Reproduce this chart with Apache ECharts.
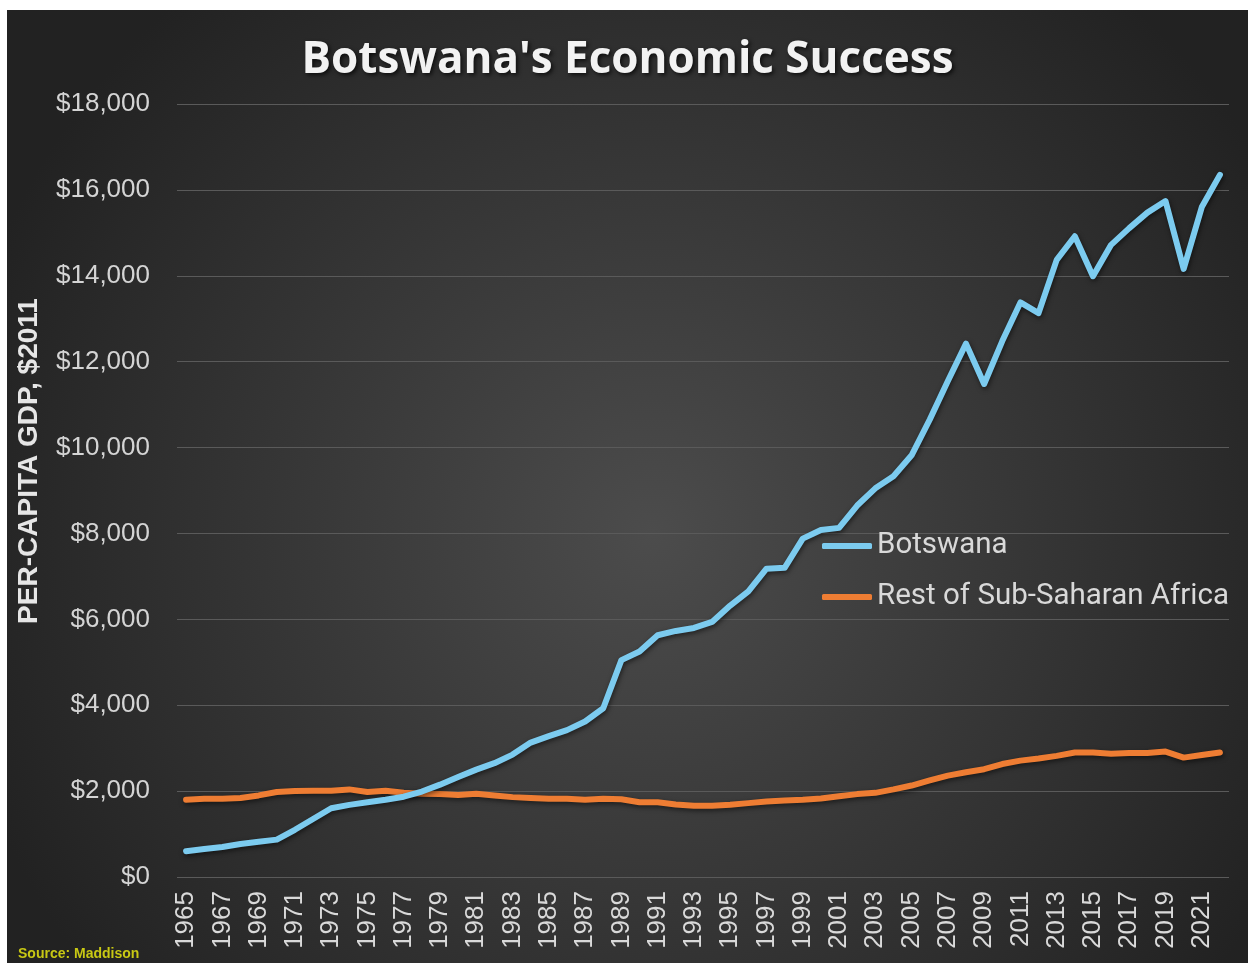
<!DOCTYPE html>
<html>
<head>
<meta charset="utf-8">
<title>Botswana's Economic Success</title>
<script src="https://cdn.jsdelivr.net/npm/echarts@6/dist/echarts.min.js"></script>
<style>
  html, body { margin: 0; padding: 0; background: #ffffff; }
  #chart { position: absolute; left: 7px; top: 10px; width: 1241px; height: 953px; }
</style>
</head>
<body>
<div id="chart"></div>
<script>
// Years shown on the category axis
const years = [
  '1965','1966','1967','1968','1969','1970','1971','1972','1973','1974',
  '1975','1976','1977','1978','1979','1980','1981','1982','1983','1984',
  '1985','1986','1987','1988','1989','1990','1991','1992','1993','1994',
  '1995','1996','1997','1998','1999','2000','2001','2002','2003','2004',
  '2005','2006','2007','2008','2009','2010','2011','2012','2013','2014',
  '2015','2016','2017','2018','2019','2020','2021','2022'
];

// Per-capita GDP, 2011 dollars (Maddison)
const botswana = [
  600, 650, 700, 770, 820, 870, 1100, 1350, 1600, 1680,
  1740, 1800, 1870, 1990, 2150, 2330, 2500, 2650, 2850, 3130,
  3280, 3420, 3620, 3930, 5050, 5250, 5630, 5730, 5800, 5940,
  6320, 6650, 7180, 7200, 7880, 8080, 8130, 8650, 9050, 9330,
  9820, 10650, 11550, 12420, 11480, 12480, 13380, 13130, 14370, 14920,
  13990, 14720, 15110, 15470, 15740, 14160, 15600, 16350
];

const restOfSSA = [
  1800, 1820, 1820, 1840, 1900, 1980, 2000, 2010, 2010, 2040,
  1980, 2010, 1960, 1940, 1930, 1910, 1940, 1900, 1860, 1840,
  1820, 1820, 1800, 1820, 1810, 1740, 1740, 1690, 1660, 1660,
  1680, 1720, 1760, 1780, 1800, 1830, 1880, 1930, 1960, 2040,
  2130, 2250, 2360, 2440, 2510, 2630, 2710, 2760, 2820, 2900,
  2900, 2870, 2890, 2890, 2920, 2780, 2840, 2900
];

const seriesNames = ['Botswana', 'Rest of Sub-Saharan Africa'];
const titleText = "Botswana's Economic Success";
const yAxisTitle = 'PER-CAPITA GDP, $2011';
const sourceText = 'Source: Maddison';

const chart = echarts.init(document.getElementById('chart'));

const lineShadow = {
  shadowColor: 'rgba(0,0,0,0.55)',
  shadowBlur: 5,
  shadowOffsetX: 1,
  shadowOffsetY: 2
};

chart.setOption({
  backgroundColor: {
    type: 'radial', x: 0.52, y: 0.55, r: 0.75,
    colorStops: [
      { offset: 0, color: '#4c4c4c' },
      { offset: 1, color: '#222222' }
    ]
  },
  title: {
    text: titleText,
    left: 'center',
    top: 23,
    textStyle: {
      color: '#f2f2f2',
      fontFamily: '"Open Sans", Lato, sans-serif',
      fontWeight: 'bold',
      fontSize: 44,
      textShadowColor: 'rgba(0,0,0,0.7)',
      textShadowBlur: 4,
      textShadowOffsetX: 2,
      textShadowOffsetY: 2
    }
  },
  legend: {
    orient: 'vertical',
    left: 810,
    top: 516,
    icon: 'roundRect',
    itemWidth: 50,
    itemHeight: 6,
    itemGap: 21,
    textStyle: {
      color: '#d9d9d9',
      fontFamily: 'Roboto, sans-serif',
      fontSize: 29.5,
      lineHeight: 30
    },
    data: seriesNames
  },
  grid: { left: 170, right: 19, top: 94, bottom: 86, containLabel: false },
  xAxis: {
    type: 'category',
    data: years,
    boundaryGap: true,
    axisLine: { show: false },
    axisTick: { show: false },
    axisLabel: {
      interval: 1,
      rotate: 90,
      margin: 14,
      color: '#d9d9d9',
      fontFamily: '"Liberation Sans", Arial, sans-serif',
      fontSize: 26
    }
  },
  yAxis: {
    type: 'value',
    min: 0,
    max: 18000,
    interval: 2000,
    axisLine: { show: false },
    axisTick: { show: false },
    splitLine: { lineStyle: { color: '#5a5a5a', width: 1 } },
    axisLabel: {
      margin: 27,
      color: '#d4d4d4',
      fontFamily: '"Liberation Sans", Arial, sans-serif',
      fontSize: 26,
      formatter: v => '$' + v.toLocaleString('en-US')
    }
  },
  series: [
    {
      name: seriesNames[0],
      type: 'line',
      data: botswana,
      symbol: 'none',
      color: '#7ccbef',
      lineStyle: Object.assign({ width: 6, color: '#7ccbef', cap: 'round', join: 'round' }, lineShadow),
      z: 3
    },
    {
      name: seriesNames[1],
      type: 'line',
      data: restOfSSA,
      symbol: 'none',
      color: '#ee7d33',
      lineStyle: Object.assign({ width: 6, color: '#ee7d33', cap: 'round', join: 'round' }, lineShadow),
      z: 2
    }
  ],
  graphic: [
    {
      // vertical axis title
      type: 'text',
      x: 22,
      y: 451,
      rotation: Math.PI / 2,
      style: {
        text: yAxisTitle,
        fill: '#e6e6e6',
        align: 'center',
        verticalAlign: 'middle',
        font: 'bold 28px "Liberation Sans", Arial, sans-serif'
      }
    },
    {
      type: 'text',
      left: 11,
      top: 937,
      style: {
        text: sourceText,
        fill: '#c8c814',
        font: 'bold 14px "Liberation Sans", Arial, sans-serif'
      }
    }
  ]
});
</script>
</body>
</html>
